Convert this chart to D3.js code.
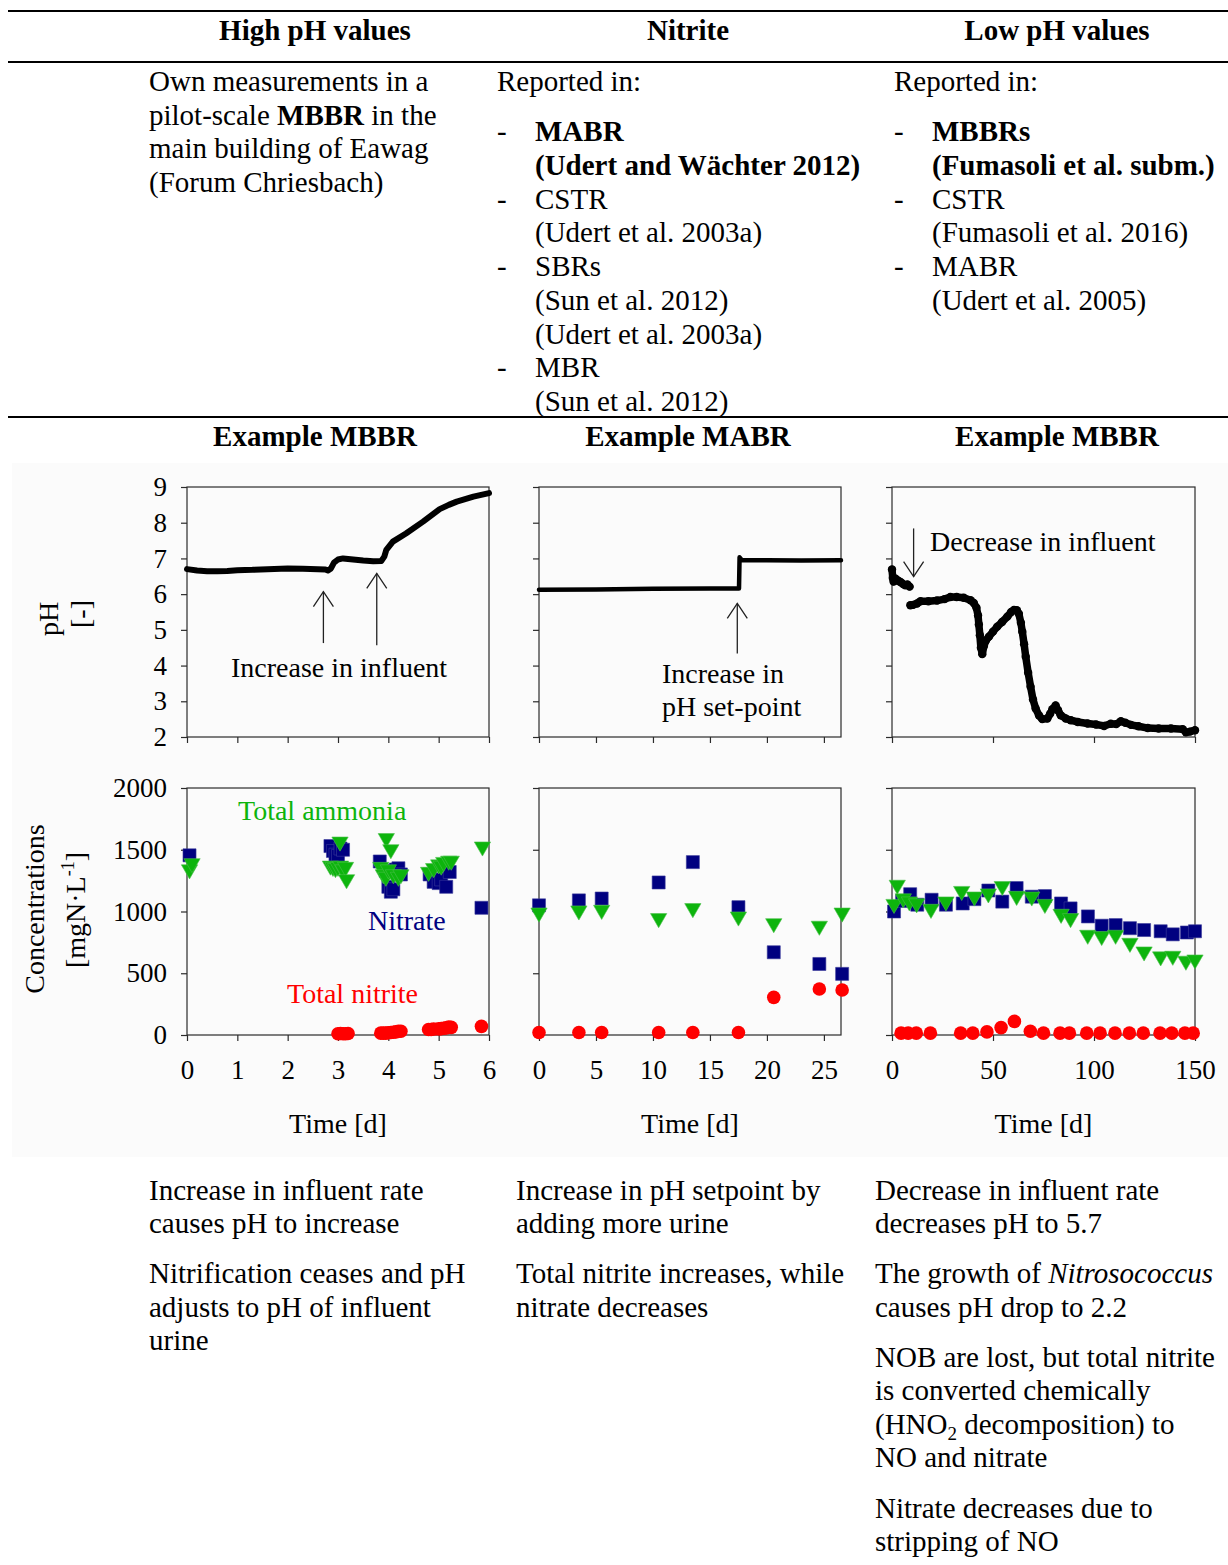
<!DOCTYPE html>
<html>
<head>
<meta charset="utf-8">
<script src="https://cdn.jsdelivr.net/npm/d3@7"></script>
<style>
  html, body { margin: 0; padding: 0; background: #fff; }
  svg { display: block; }
</style>
</head>
<body>
<svg id="fig" width="1228" height="1565"></svg>
<script>
// ---------- data ----------
const headerTitles = ["High pH values", "Nitrite", "Low pH values"];
const exampleTitles = ["Example MBBR", "Example MABR", "Example MBBR"];

const xDomains = [[0, 6], [0, 26.5], [0, 150]];
const xTicks = [[0, 1, 2, 3, 4, 5, 6], [0, 5, 10, 15, 20, 25], [0, 50, 100, 150]];
const phTicks = [2, 3, 4, 5, 6, 7, 8, 9];
const concTicks = [0, 500, 1000, 1500, 2000];

// pH time series [time (d), pH]
const ph1 = [[0,6.70],[0.2,6.66],[0.4,6.64],[0.6,6.64],[0.8,6.65],[1.0,6.67],[1.3,6.68],[1.6,6.70],
  [2.0,6.72],[2.3,6.71],[2.6,6.70],[2.75,6.69],[2.8,6.66],[2.86,6.72],[2.92,6.88],[3.0,6.97],
  [3.1,7.00],[3.3,6.97],[3.5,6.94],[3.7,6.92],[3.86,6.93],[3.92,7.05],[3.96,7.24],[4.09,7.47],
  [4.35,7.70],[4.69,8.03],[5.02,8.38],[5.2,8.50],[5.36,8.59],[5.69,8.73],[6.0,8.83]];
const ph2 = [[0,6.12],[5,6.13],[10,6.15],[15,6.16],[17.55,6.16],[17.6,7.03],[17.8,6.95],
  [20,6.95],[23,6.94],[26.5,6.95]];
const ph3a = [[0,6.69],[0.4,6.45],[0.8,6.35],[1.6,6.44],[2.5,6.40],[3.5,6.36],[4.5,6.33],
  [5.5,6.28],[6.6,6.25],[7.6,6.27],[8.7,6.21]];
const ph3b = [[9.1,5.69],[10.5,5.70],[12.4,5.74],[14.1,5.80],[18,5.80],[22.3,5.82],[26,5.86],
  [28.9,5.92],[32,5.92],[35.5,5.90],[38.9,5.83],[40.5,5.75],[41.8,5.62],[42.6,5.40],[43.0,5.15],
  [43.5,4.85],[44.0,4.50],[44.7,4.32],[45.5,4.55],[46.5,4.70],[48,4.81],[50,4.95],[52.1,5.09],
  [54.5,5.22],[57.1,5.37],[59,5.50],[60.4,5.56],[61.8,5.55],[62.8,5.45],[63.8,5.20],[64.5,4.95],
  [65.4,4.60],[66.2,4.25],[67.4,3.80],[68.6,3.41],[69.8,3.05],[71.1,2.80],[72.8,2.60],[74.4,2.50],
  [76.9,2.52],[78.3,2.65],[79.4,2.78],[81.0,2.88],[82.2,2.75],[83.5,2.61],[86,2.52],[88.5,2.47],
  [92,2.42],[96.8,2.38],[101,2.35],[105,2.31],[108.3,2.37],[111,2.36],[113.3,2.44],[115.5,2.40],
  [118.3,2.34],[122,2.30],[126.6,2.25],[132,2.24],[138.1,2.24],[143.9,2.22],[145.5,2.13],
  [147.5,2.15],[150,2.19]];

// concentrations [time (d), mgN/L]
const nitrate1 = [[0.05,1455],[2.85,1530],[2.9,1490],[2.95,1460],[3.0,1450],[3.05,1510],[3.1,1500],
  [3.83,1405],[3.95,1330],[4.0,1200],[4.05,1160],[4.1,1180],[4.15,1340],[4.2,1350],[4.25,1300],
  [4.82,1300],[4.9,1240],[5.0,1230],[5.05,1260],[5.15,1200],[5.22,1320],[5.85,1030]];
const ammonia1 = [[0.05,1340],[0.1,1390],[2.85,1370],[2.9,1360],[2.95,1350],[3.0,1360],[3.05,1370],
  [3.1,1340],[3.15,1360],[3.17,1260],[3.04,1565],[3.96,1593],[4.05,1503],[3.85,1360],[3.9,1300],
  [3.95,1280],[4.0,1340],[4.1,1300],[4.2,1280],[4.25,1300],[4.8,1320],[4.9,1350],[5.0,1380],
  [5.05,1370],[5.1,1400],[5.2,1410],[5.25,1410],[5.87,1525]];
const nitrite1 = [[3.0,10],[3.05,12],[3.1,10],[3.15,10],[3.2,12],[3.85,15],[3.9,15],[3.95,15],
  [4.0,18],[4.05,20],[4.1,22],[4.15,25],[4.2,30],[4.25,30],[4.8,45],[4.85,45],[4.9,48],[5.0,50],
  [5.05,52],[5.1,55],[5.15,58],[5.2,65],[5.25,62],[5.85,70]];

const nitrate2 = [[0,1050],[3.5,1090],[5.5,1105],[10.5,1235],[13.5,1400],[17.5,1035],[20.6,670],
  [24.6,575],[26.6,495]];
const ammonia2 = [[0,990],[3.5,1007],[5.5,1012],[10.5,945],[13.5,1026],[17.5,958],[20.6,904],
  [24.6,883],[26.6,990]];
const nitrite2 = [[0,20],[3.5,20],[5.5,20],[10.5,20],[13.5,20],[17.5,20],[20.6,305],[24.6,372],
  [26.6,364]];

const nitrate3 = [[1,1000],[5,1085],[9,1140],[12.5,1055],[19.6,1095],[26.7,1055],[35,1065],
  [40.8,1100],[47.7,1170],[54.6,1080],[61.7,1190],[69.2,1120],[75.7,1125],[83.7,1065],[88.4,1025],
  [97,960],[103.8,885],[110.7,890],[117.8,865],[124.8,850],[133,840],[139,815],[146,830],[150,840]];
const ammonia3 = [[1,1060],[2.6,1215],[5.6,1105],[8.6,1080],[12.2,1065],[19.3,1020],[26.7,1080],
  [34.5,1165],[40.8,1120],[47.7,1145],[54.6,1205],[61.7,1125],[69.2,1120],[75.7,1060],[83.7,980],
  [88.4,945],[96.9,810],[103.8,800],[110.7,810],[117.8,745],[124.8,675],[133,635],[139,640],
  [145.5,600],[150,610]];
const nitrite3 = [[4.5,15],[8,15],[12,15],[19,15],[34,15],[40,15],[47,25],[54,60],[60.6,110],
  [68.5,30],[75,15],[83.2,15],[87.8,15],[96.4,15],[103,15],[110.4,15],[117.5,15],[124.4,15],
  [132.7,15],[138.5,15],[145,15],[149.1,15]];

// ---------- drawing ----------
const FONT = "'Liberation Serif','Times New Roman',Times,serif";
const INK = "#000";
const AXIS = "#2b2b2b";
const C_NITRATE = "#000080", C_AMMONIA = "#0db40d", C_NITRITE = "#ff0000";
const intFmt = d3.format("d");

const svg = d3.select("#fig").style("font-family", FONT);
svg.append("rect").attr("width", 1228).attr("height", 1565).attr("fill", "#fff");
// faint backdrop behind the chart block
svg.append("rect").attr("x", 12).attr("y", 463).attr("width", 1216).attr("height", 694)
  .attr("fill", "#fbfbfb");

// table rules
[11, 62, 417].forEach(y => svg.append("line").attr("x1", 8).attr("x2", 1228)
  .attr("y1", y).attr("y2", y).attr("stroke", INK).attr("stroke-width", 2));

const colCenters = [315, 688, 1057];
headerTitles.forEach((t, i) => svg.append("text").attr("x", colCenters[i]).attr("y", 40)
  .attr("text-anchor", "middle").attr("font-size", 29).attr("font-weight", "bold").text(t));
exampleTitles.forEach((t, i) => svg.append("text").attr("x", colCenters[i]).attr("y", 446)
  .attr("text-anchor", "middle").attr("font-size", 29).attr("font-weight", "bold").text(t));

// generic multi-line writer: each line is an array of [text, style] runs
function writeLines(x, baselines, runsList) {
  runsList.forEach((runs, k) => {
    const t = svg.append("text").attr("x", x).attr("y", baselines[k]).attr("font-size", 29)
      .attr("fill", INK);
    runs.forEach(r => {
      const s = t.append("tspan").text(r[0]);
      if (r[1] === "b") s.attr("font-weight", "bold");
      if (r[1] === "i") s.attr("font-style", "italic");
      if (r[1] === "sub") s.attr("font-size", 19).attr("dy", 6);
      if (r[1] === "after-sub") s.attr("dy", -6);
    });
  });
}

// column 1 of the table
writeLines(149, [91, 124.5, 158, 192], [
  [["Own measurements in a"]],
  [["pilot-scale "], ["MBBR", "b"], [" in the"]],
  [["main building of Eawag"]],
  [["(Forum Chriesbach)"]]
]);

// columns 2 and 3 of the table: reference lists
const col2Items = [
  { bold: true, lines: ["MABR", "(Udert and Wächter 2012)"] },
  { bold: false, lines: ["CSTR", "(Udert et al. 2003a)"] },
  { bold: false, lines: ["SBRs", "(Sun et al. 2012)", "(Udert et al. 2003a)"] },
  { bold: false, lines: ["MBR", "(Sun et al. 2012)"] }
];
const col3Items = [
  { bold: true, lines: ["MBBRs", "(Fumasoli et al. subm.)"] },
  { bold: false, lines: ["CSTR", "(Fumasoli et al. 2016)"] },
  { bold: false, lines: ["MABR", "(Udert et al. 2005)"] }
];
function writeList(x0, indent, items) {
  svg.append("text").attr("x", x0).attr("y", 91).attr("font-size", 29).text("Reported in:");
  let row = 0;
  items.forEach(item => {
    item.lines.forEach((ln, j) => {
      const y = 141 + row * 33.75;
      if (j === 0) svg.append("text").attr("x", x0).attr("y", y).attr("font-size", 29).text("-");
      svg.append("text").attr("x", x0 + indent).attr("y", y).attr("font-size", 29)
        .attr("font-weight", item.bold ? "bold" : "normal").text(ln);
      row++;
    });
  });
}
writeList(497, 38, col2Items);
writeList(894, 38, col3Items);

// ---------- panels ----------
const colX = [[187, 489], [539, 841], [892, 1195]];
const PH_TOP = 487, PH_BOT = 737, C_TOP = 788, C_BOT = 1035;

const phSeries = [[ph1], [ph2], [ph3a, ph3b]];
const phWidth = [6, 4.5, 7.5];
const concSeries = [
  [nitrate1, ammonia1, nitrite1],
  [nitrate2, ammonia2, nitrite2],
  [nitrate3, ammonia3, nitrite3]
];

function styleAxis(g) {
  g.select(".domain").remove();
  g.selectAll(".tick line").attr("stroke", AXIS).attr("stroke-width", 1.2);
  g.selectAll(".tick text").attr("font-family", FONT).attr("font-size", 27).attr("fill", INK);
}

function arrow(x, yFrom, yTip) {
  const dir = yTip < yFrom ? 1 : -1; // 1: pointing up
  svg.append("line").attr("x1", x).attr("x2", x).attr("y1", yFrom).attr("y2", yTip)
    .attr("stroke", "#222").attr("stroke-width", 1.3);
  svg.append("path")
    .attr("d", `M${x - 10},${yTip + dir * 15}L${x},${yTip}L${x + 10},${yTip + dir * 15}`)
    .attr("fill", "none").attr("stroke", "#222").attr("stroke-width", 1.3);
}

const scales = [];
colX.forEach((range, i) => {
  const x = d3.scaleLinear().domain(xDomains[i]).range(range);
  const yPh = d3.scaleLinear().domain([2, 9]).range([PH_BOT, PH_TOP]);
  const yC = d3.scaleLinear().domain([0, 2000]).range([C_BOT, C_TOP]);
  scales.push({ x, yPh, yC });

  // frames
  [[PH_TOP, PH_BOT], [C_TOP, C_BOT]].forEach(([t, b]) =>
    svg.append("rect").attr("x", range[0]).attr("y", t).attr("width", range[1] - range[0])
      .attr("height", b - t).attr("fill", "none").attr("stroke", AXIS).attr("stroke-width", 1.2));

  // pH axes
  const ayPh = d3.axisLeft(yPh).tickValues(phTicks).tickSize(6).tickPadding(14).tickSizeOuter(0)
    .tickFormat(i > 0 ? () => "" : intFmt);
  svg.append("g").attr("transform", `translate(${range[0]},0)`).call(ayPh).call(styleAxis);
  svg.append("g").attr("transform", `translate(0,${PH_BOT})`)
    .call(d3.axisBottom(x).tickValues(xTicks[i]).tickSize(6).tickFormat(() => "").tickSizeOuter(0))
    .call(styleAxis);

  // concentration axes
  const ayC = d3.axisLeft(yC).tickValues(concTicks).tickSize(6).tickPadding(14).tickSizeOuter(0)
    .tickFormat(i > 0 ? () => "" : intFmt);
  svg.append("g").attr("transform", `translate(${range[0]},0)`).call(ayC).call(styleAxis);
  svg.append("g").attr("transform", `translate(0,${C_BOT})`)
    .call(d3.axisBottom(x).tickValues(xTicks[i]).tickSize(6).tickPadding(19).tickSizeOuter(0)
      .tickFormat(intFmt))
    .call(styleAxis);

  svg.append("text").attr("x", (range[0] + range[1]) / 2).attr("y", 1133)
    .attr("text-anchor", "middle").attr("font-size", 28).text("Time [d]");

  // pH traces
  const line = d3.line().x(d => x(d[0])).y(d => yPh(d[1]));
  phSeries[i].forEach(s => {
    svg.append("path").datum(s).attr("d", line).attr("fill", "none").attr("stroke", "#000")
      .attr("stroke-width", phWidth[i]).attr("stroke-linejoin", "round").attr("stroke-linecap", "round");
  });
  if (i === 2) {
    phSeries[i].forEach(s => svg.append("g").selectAll("circle").data(s).join("circle")
      .attr("cx", d => x(d[0])).attr("cy", d => yPh(d[1])).attr("r", 4.2).attr("fill", "#000"));
  }

  // concentration markers
  const [no3, nh4, no2] = concSeries[i];
  const sq = d3.symbol(d3.symbolSquare, 170)();
  const tri = d3.symbol(d3.symbolTriangle, 115)();
  svg.append("g").selectAll("path").data(no3).join("path").attr("d", sq)
    .attr("transform", d => `translate(${x(d[0])},${yC(d[1])})`)
    .attr("fill", C_NITRATE).attr("stroke", "#3a3a9a").attr("stroke-width", 0.6);
  svg.append("g").selectAll("path").data(nh4).join("path").attr("d", tri)
    .attr("transform", d => `translate(${x(d[0])},${yC(d[1])}) rotate(180)`)
    .attr("fill", C_AMMONIA).attr("stroke", "#4ac04a").attr("stroke-width", 0.6);
  svg.append("g").selectAll("circle").data(no2).join("circle")
    .attr("cx", d => x(d[0])).attr("cy", d => yC(d[1])).attr("r", 6.8).attr("fill", C_NITRITE);
});

// y-axis titles
function vText(cx, cy, size) {
  return svg.append("text").attr("transform", `translate(${cx},${cy}) rotate(-90)`)
    .attr("text-anchor", "middle").attr("dy", "0.35em").attr("font-size", size);
}
vText(48, 619, 28).text("pH");
vText(80, 614, 28).text("[-]");
vText(34, 909, 28).text("Concentrations");
const unit = vText(75, 910, 28);
unit.append("tspan").text("[mgN·L");
unit.append("tspan").attr("font-size", 18).attr("dy", -11).text("-1");
unit.append("tspan").attr("dy", 11).text("]");

// annotations
const s1 = scales[0], s2 = scales[1], s3 = scales[2];
arrow(s1.x(2.71), s1.yPh(4.63), s1.yPh(6.07));
arrow(s1.x(3.77), s1.yPh(4.57), s1.yPh(6.58));
svg.append("text").attr("x", 231).attr("y", 677).attr("font-size", 28).text("Increase in influent");

arrow(s2.x(17.4), s2.yPh(4.34), s2.yPh(5.74));
svg.append("text").attr("x", 662).attr("y", 683).attr("font-size", 28).text("Increase in");
svg.append("text").attr("x", 662).attr("y", 716).attr("font-size", 28).text("pH set-point");

arrow(s3.x(10.7), s3.yPh(7.84), s3.yPh(6.49));
svg.append("text").attr("x", 930).attr("y", 551).attr("font-size", 28).text("Decrease in influent");

svg.append("text").attr("x", 238).attr("y", 820).attr("font-size", 28).attr("fill", C_AMMONIA).text("Total ammonia");
svg.append("text").attr("x", 368).attr("y", 930).attr("font-size", 28).attr("fill", C_NITRATE).text("Nitrate");
svg.append("text").attr("x", 287).attr("y", 1003).attr("font-size", 28).attr("fill", C_NITRITE).text("Total nitrite");

// ---------- notes below the panels ----------
writeLines(149, [1200, 1233, 1283, 1317, 1350], [
  [["Increase in influent rate"]],
  [["causes pH to increase"]],
  [["Nitrification ceases and pH"]],
  [["adjusts to pH of influent"]],
  [["urine"]]
]);
writeLines(516, [1200, 1233, 1283, 1317], [
  [["Increase in pH setpoint by"]],
  [["adding more urine"]],
  [["Total nitrite increases, while"]],
  [["nitrate decreases"]]
]);
writeLines(875, [1200, 1233, 1283, 1317, 1367, 1400, 1434, 1467, 1518, 1551], [
  [["Decrease in influent rate"]],
  [["decreases pH to 5.7"]],
  [["The growth of "], ["Nitrosococcus", "i"]],
  [["causes pH drop to 2.2"]],
  [["NOB are lost, but total nitrite"]],
  [["is converted chemically"]],
  [["(HNO"], ["2", "sub"], [" decomposition) to", "after-sub"]],
  [["NO and nitrate"]],
  [["Nitrate decreases due to"]],
  [["stripping of NO"]]
]);
</script>
</body>
</html>
